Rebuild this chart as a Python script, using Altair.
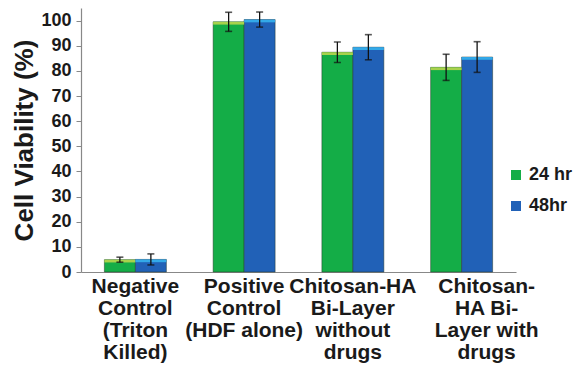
import altair as alt
import pandas as pd

# ---- data ----
label_lines = [
    ["Negative", "Control", "(Triton", "Killed)"],
    ["Positive", "Control", "(HDF alone)"],
    ["Chitosan-HA", "Bi-Layer", "without", "drugs"],
    ["Chitosan-", "HA Bi-", "Layer with", "drugs"],
]
categories = ["|".join(l) for l in label_lines]
series = ["24 hr", "48hr"]
mean_24 = [4.9, 99.5, 87.4, 81.4]
err_24 = [1.0, 3.8, 4.1, 5.2]
mean_48 = [5.0, 100.4, 89.4, 85.5]
err_48 = [2.2, 3.0, 5.0, 6.1]
y_ticks = [0, 10, 20, 30, 40, 50, 60, 70, 80, 90, 100]

rows = []
for i, c in enumerate(categories):
    rows.append({"group": c, "series": series[0], "value": mean_24[i], "err": err_24[i]})
    rows.append({"group": c, "series": series[1], "value": mean_48[i], "err": err_48[i]})
df = pd.DataFrame(rows)

FONT = "Liberation Sans"
GREEN, BLUE = "#14ad47", "#2161b7"
LGREEN, LBLUE = "#a8d24c", "#33a9e8"

base = alt.Chart(df).transform_calculate(
    lo="datum.value - datum.err",
    hi="datum.value + datum.err",
    top="datum.value - 1.1",
)

x = alt.X(
    "group:N",
    sort=categories,
    scale=alt.Scale(paddingInner=0.43, paddingOuter=0.215),
    axis=alt.Axis(
        title=None,
        labelAngle=0,
        labelExpr="split(datum.label, '|')",
        labelFont=FONT,
        labelFontSize=21,
        labelFontWeight="bold",
        labelColor="#1a1a1a",
        labelLineHeight=22,
        labelPadding=3,
        labelLimit=0,
        labelOverlap=False,
        labelOffset={"condition": {"test": "datum.index == 1", "value": 25}, "value": 0},
        ticks=False,
        domainColor="#888888",
        domainWidth=1.2,
    ),
)
xo = alt.XOffset("series:N", sort=series, scale=alt.Scale(paddingInner=0, paddingOuter=0))
y_axis = alt.Axis(
    values=y_ticks,
    title="Cell Viability (%)",
    titleFont=FONT,
    titleFontSize=26,
    titleFontWeight="bold",
    titleColor="#1a1a1a",
    titlePadding=3,
    labelFont=FONT,
    labelFontSize=18,
    labelFontWeight="bold",
    labelColor="#1a1a1a",
    labelPadding=5,
    labelOverlap=False,
    tickSize=5,
    tickColor="#888888",
    domainColor="#888888",
    domainWidth=1.2,
    grid=False,
)
y_scale = alt.Scale(domain=[0, 105], nice=False)


def Y(field):
    return alt.Y(field, scale=y_scale, axis=y_axis)


bars = base.mark_bar(stroke="#223322", strokeWidth=0.8, strokeOpacity=0.6).encode(
    x=x,
    xOffset=xo,
    y=Y("value:Q"),
    color=alt.Color(
        "series:N",
        sort=series,
        scale=alt.Scale(domain=series, range=[GREEN, BLUE]),
        legend=alt.Legend(
            title=None,
            orient="none",
            legendX=426,
            legendY=158,
            symbolType="square",
            symbolSize=100,
            symbolStrokeWidth=0,
            labelFont=FONT,
            labelFontSize=18,
            labelFontWeight="bold",
            labelColor="#1a1a1a",
            labelOffset=4,
            labelLimit=0,
            rowPadding=13,
        ),
    ),
)

bevel = base.mark_bar().encode(
    x=x,
    xOffset=xo,
    y=Y("value:Q"),
    y2="top:Q",
    color=alt.Color(
        "series:N",
        sort=series,
        scale=alt.Scale(domain=series, range=[LGREEN, LBLUE]),
        legend=None,
    ),
)

rules = base.mark_rule(color="#111111", strokeWidth=1.3).encode(
    x=x, xOffset=xo, y=Y("lo:Q"), y2="hi:Q"
)
cap_hi = base.mark_tick(color="#111111", thickness=1.6, size=7).encode(
    x=x, xOffset=xo, y=Y("hi:Q")
)
cap_lo = base.mark_tick(color="#111111", thickness=1.6, size=7).encode(
    x=x, xOffset=xo, y=Y("lo:Q")
)

chart = (
    alt.layer(bars, bevel, rules, cap_hi, cap_lo)
    .resolve_scale(color="independent")
    .properties(
        width=435,
        height=264,
        autosize=alt.AutoSizeParams(type="none"),
        padding={"left": 73, "top": 0, "right": 58, "bottom": 91},
    )
    .configure_view(stroke=None)
)

chart.save("out.html", embed_options={"renderer": "svg", "actions": False})
